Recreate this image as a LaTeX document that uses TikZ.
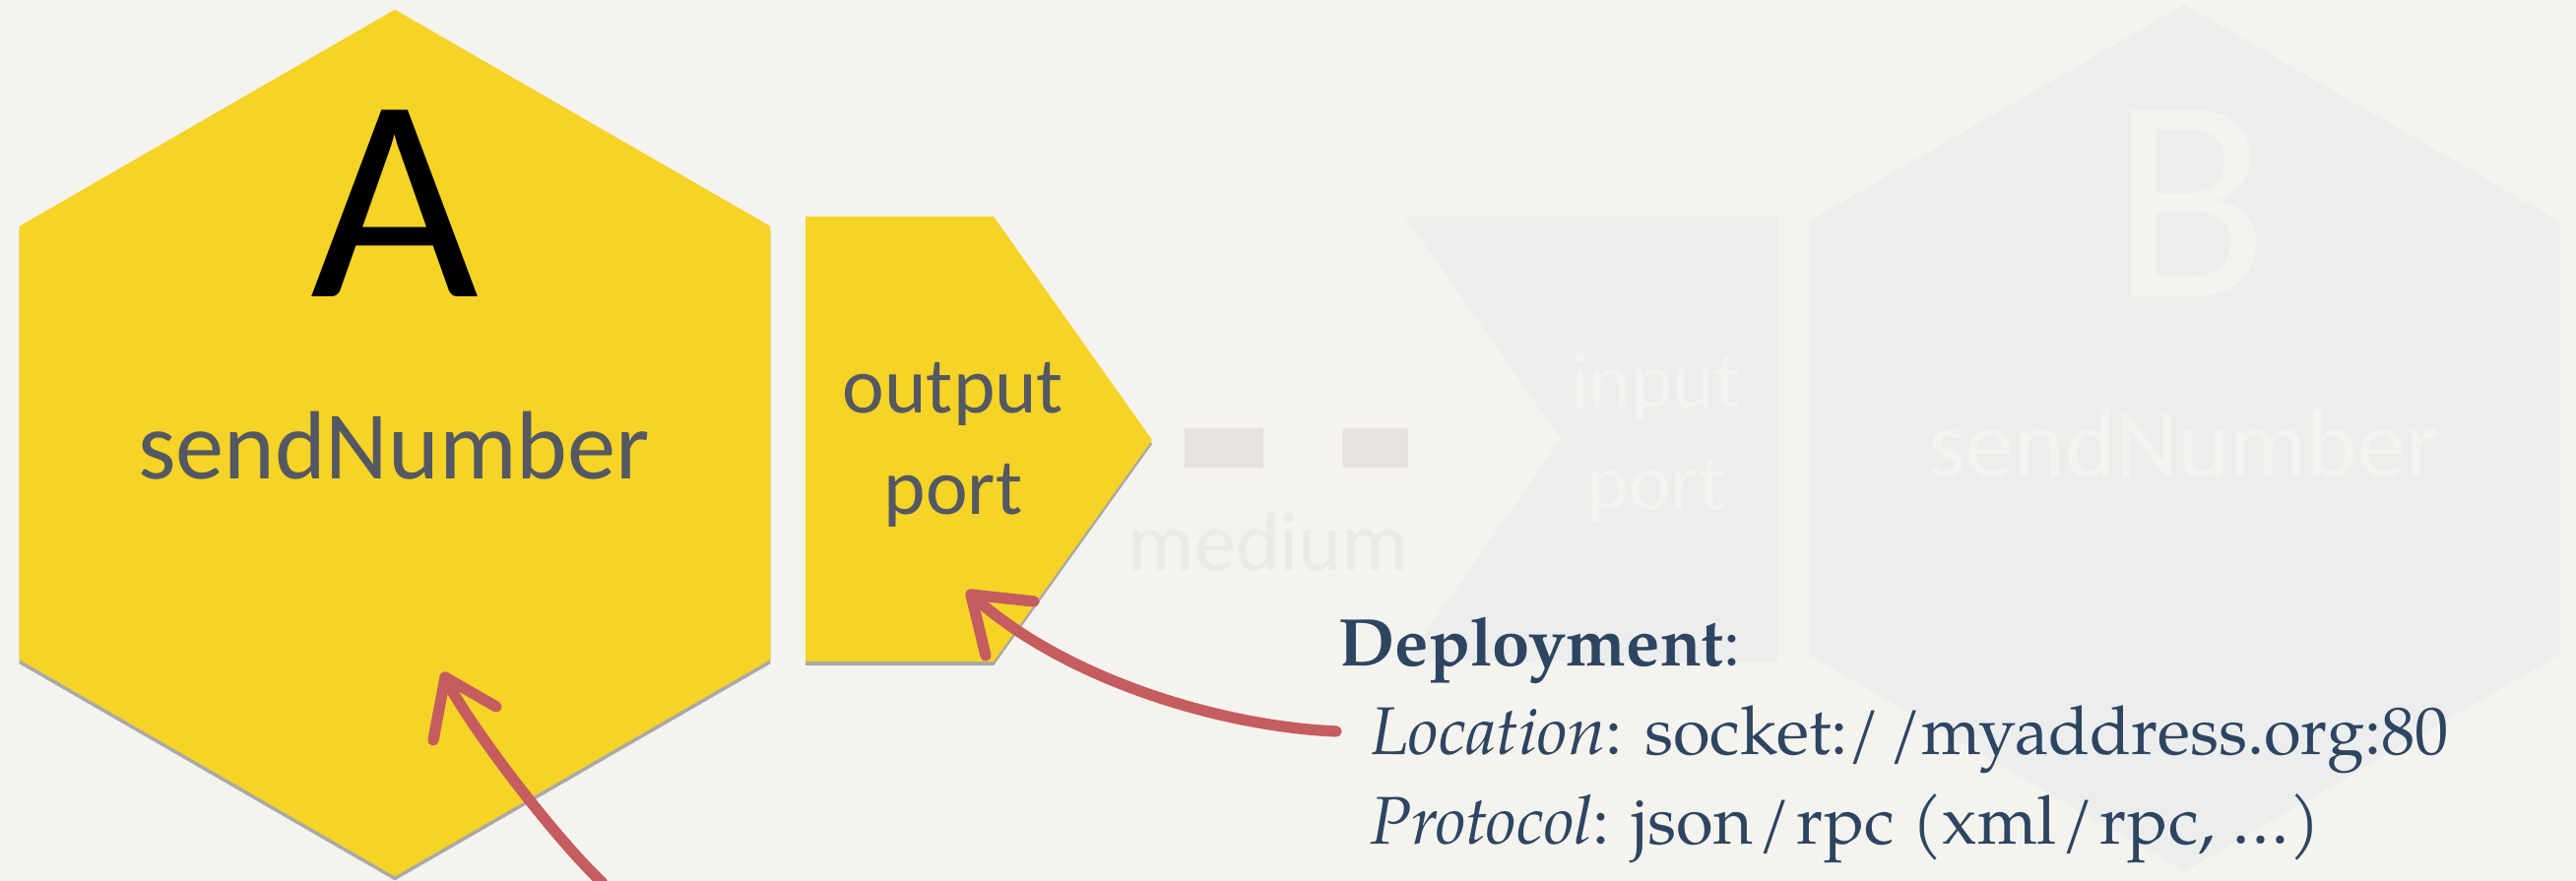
\documentclass[tikz,border=0pt]{standalone}
\usepackage{fontspec}
\setmainfont{TeX Gyre Pagella}
\newfontfamily\slidesans{Carlito}
\usetikzlibrary{shapes.geometric,shadows}

\definecolor{paper}{HTML}{F5F3EE}
\definecolor{hexyellow}{HTML}{F5D327}
\definecolor{labelgray}{HTML}{535862}
\definecolor{ghostfill}{HTML}{ECEEEE}
\definecolor{ghosttext}{HTML}{F4F3EF}
\definecolor{linkbar}{HTML}{E7E4E0}
\definecolor{linktext}{HTML}{ECEAE5}
\definecolor{deploynavy}{HTML}{2E4562}
\definecolor{chalkred}{HTML}{C45C60}

\tikzset{
  hexa/.style={regular polygon,regular polygon sides=6,shape border rotate=30,minimum size=8.8cm,inner sep=0pt},
  paneshadow/.style={drop shadow={shadow xshift=0pt,shadow yshift=-1.2pt,fill=black,opacity=.3}},
  bigletter/.style={font=\slidesans\fontsize{84}{84}\selectfont,inner sep=0pt,anchor=base},
  servicename/.style={font=\slidesans\fontsize{28}{34}\selectfont,inner sep=0pt,anchor=base},
  portname/.style={font=\slidesans\fontsize{23}{29.3}\selectfont,inner sep=0pt,anchor=base,align=center},
  deploy/.style={font=\fontsize{19.5}{25}\selectfont,text=deploynavy,inner sep=0pt,anchor=base west},
  chalk/.style={draw=chalkred,line width=3.2pt,line cap=round,line join=round},
}

\begin{document}
\begin{tikzpicture}[x=0.01cm,y=-0.01cm]
\useasboundingbox (0,0) rectangle (2616,895);
\fill[paper] (0,0) rectangle (2616,895);

% service B and its input port, faded out
\node[hexa,fill=ghostfill] (hexB) at (2218,445) {};
\fill[ghostfill] (1427,220) -- (1806,220) -- (1806,672) -- (1427,672) -- (1585,446) -- cycle;
\node[bigletter,text=ghosttext] (nameB) at (2224,302) {B};
\node[servicename,text=ghosttext] (opB) at (2218,485) {sendNumber};
\node[portname,text=ghosttext] (inPort) at (1682,518) {input\\port};

% the medium in between
\fill[linkbar] (1203,435) rectangle (1283,475);
\fill[linkbar] (1363,435) rectangle (1430,475);
\node[servicename,font=\slidesans\fontsize{24}{30}\selectfont,text=linktext] (medium) at (1288,580) {medium};

% service A with its output port
\node[hexa,fill=hexyellow,paneshadow] (hexA) at (401,450) {};
\node[bigletter,text=black] (nameA) at (401,302) {A};
\node[servicename,text=labelgray] (opA) at (400,487) {sendNumber};
\path[fill=hexyellow,paneshadow] (818,220) -- (1009,220) -- (1170,447) -- (1009,672) -- (818,672) -- cycle;
\node[portname,text=labelgray] (outPort) at (968,523) {output\\port};

% deployment notes
\node[deploy] (deployHead) at (1359,677) {\textbf{Deployment}:};
\node[deploy] (deployLoc) at (1392,767) {\textit{Location}: socket:/\kern.12em/myaddress.org:80};
\node[deploy] (deployProto) at (1391,857) {\textit{Protocol}: json\kern.08em/\kern.08em rpc (xml\kern.08em/\kern.08em rpc, …)};

% hand drawn pointers
\coordinate (tailA) at (612,897);
\coordinate (tipA) at (452,688);
\draw[chalk] (tailA) .. controls (560,848) and (470,728) .. (tipA);
\draw[chalk] (440,752) -- (tipA) -- (504,718);

\coordinate (tailPort) at (1357,743);
\coordinate (tipPort) at (986,604);
\draw[chalk] (tailPort) .. controls (1240,738) and (1080,690) .. (tipPort);
\draw[chalk] (1001,666) -- (tipPort) -- (1050,611);
\end{tikzpicture}
\end{document}
